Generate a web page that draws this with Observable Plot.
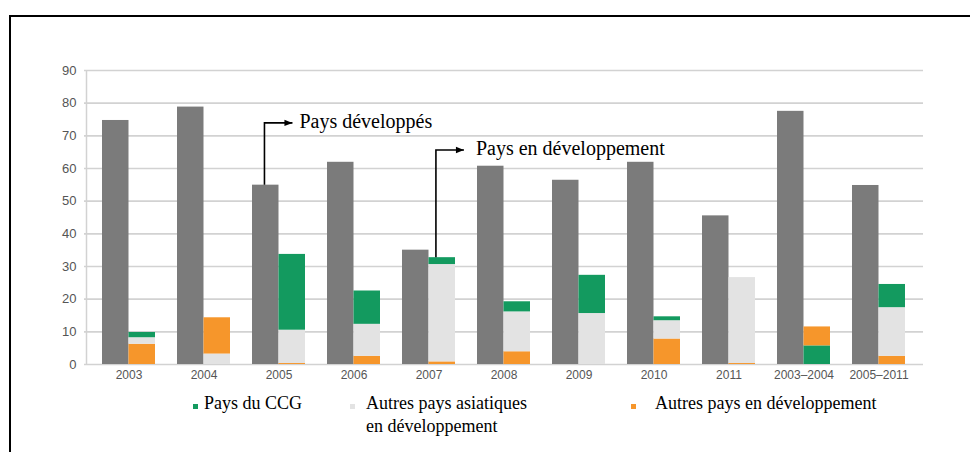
<!DOCTYPE html>
<html>
<head>
<meta charset="utf-8">
<script src="https://cdn.jsdelivr.net/npm/d3@7"></script>
<script src="https://cdn.jsdelivr.net/npm/@observablehq/plot@0.6"></script>
<style>
  html, body { margin: 0; padding: 0; background: #fff; }
  #wrap { position: relative; width: 970px; height: 452px; overflow: hidden; background: #fff; }
  #frame { position: absolute; left: 9px; top: 15px; width: 970px; height: 452px;
           border-top: 2px solid #000; border-left: 2px solid #000; pointer-events: none; }
  #chart { position: absolute; left: 0; top: 0; }
  .lg-mark { position: absolute; width: 5px; height: 5px; }
  .lg-text { position: absolute; font-family: "Liberation Serif", "Times New Roman", serif;
             font-size: 18px; line-height: 23px; color: #000; white-space: nowrap; }
</style>
</head>
<body>
<div id="wrap">
  <div id="chart"></div>
  <div id="frame"></div>
</div>
<script>
// ---------- DATA ----------
const categories = ["2003", "2004", "2005", "2006", "2007", "2008", "2009", "2010", "2011", "2003–2004", "2005–2011"];
const developed  = [74.7, 78.8, 54.9, 61.9, 35.0, 60.7, 56.4, 61.9, 45.5, 77.5, 54.8];
const ccg        = [1.6, 0, 23.2, 10.2, 2.1, 3.1, 11.7, 1.2, 0, 5.7, 7.1];
const asia       = [2.0, 3.2, 10.2, 9.8, 29.8, 12.2, 15.6, 5.6, 26.3, 0, 14.9];
const otherDev   = [6.2, 11.1, 0.3, 2.5, 0.8, 3.9, 0, 7.8, 0.3, 5.8, 2.5];
// stacking order of the developing-country segments, bottom to top
const stackOrder = [
  ["other", "asia", "ccg"], ["asia", "other", "ccg"], ["other", "asia", "ccg"], ["other", "asia", "ccg"],
  ["other", "asia", "ccg"], ["other", "asia", "ccg"], ["other", "asia", "ccg"], ["other", "asia", "ccg"],
  ["other", "asia", "ccg"], ["ccg", "other", "asia"], ["other", "asia", "ccg"]
];
const seriesKeys   = ["ccg", "asia", "other"];
const seriesLabels = ["Pays du CCG", "Autres pays asiatiques en développement", "Autres pays en développement"];
const yTicks = [0, 10, 20, 30, 40, 50, 60, 70, 80, 90];
const annotations = [
  {text: "Pays développés", category: "2005", bar: "developed", elbow: 73.8},
  {text: "Pays en développement", category: "2007", bar: "developing", elbow: 65.5}
];

// ---------- STYLE ----------
const colors = {ccg: "#139a5f", asia: "#e3e3e3", other: "#f6962b", developed: "#7b7b7b"};
const W = 970, H = 400, mL = 84, mR = 47, mT = 70, mB = 36;
const padIn = 0.3, padOut = 0.19;
const step = (W - mL - mR) / (categories.length - padIn + 2 * padOut);
const half = step * (1 - padIn) / 2;

// ---------- build tables ----------
const valuesBy = {ccg, asia, other: otherDev};
const devRows = categories.map((c, i) => ({category: c, value: developed[i]}));
const stackRows = [];
const totals = {};
categories.forEach((c, i) => {
  let acc = 0;
  for (const k of stackOrder[i]) {
    const v = valuesBy[k][i];
    if (v > 0) stackRows.push({category: c, series: seriesLabels[seriesKeys.indexOf(k)], y1: acc, y2: acc + v});
    acc += v;
  }
  totals[c] = acc;
});

const chart = Plot.plot({
  width: W, height: H,
  marginLeft: mL, marginRight: mR, marginTop: mT, marginBottom: mB,
  style: {fontFamily: "'Liberation Sans', Arial, sans-serif", fontSize: "12px", color: "#555", background: "transparent", overflow: "visible"},
  x: {domain: categories, paddingInner: padIn, paddingOuter: padOut, label: null, tickSize: 0, tickPadding: 6},
  y: {domain: [0, 90], ticks: yTicks, label: null, tickSize: 0, tickPadding: 8},
  color: {domain: seriesLabels, range: [colors.ccg, colors.asia, colors.other]},
  marks: [
    Plot.ruleY(yTicks, {stroke: "#d2d2d2", strokeWidth: 1.6}),
    Plot.barY(devRows, {x: "category", y: "value", fill: colors.developed, insetRight: half}),
    Plot.barY(stackRows, {x: "category", y1: "y1", y2: "y2", fill: "series", insetLeft: half})
  ]
});
document.getElementById("chart").appendChild(chart);

// slightly larger y tick labels, as in the reference
d3.select(chart).selectAll("[aria-label='y-axis tick label'] text, g[aria-label='y-axis'] text, g[aria-label='y-axis tick label'] text")
  .attr("font-size", 13);

// ---------- annotations & axis line, positioned with the plot's scales ----------
const xs = chart.scale("x"), ys = chart.scale("y");
const svg = d3.select(chart);
svg.append("line")
  .attr("x1", mL + 2.5).attr("x2", mL + 2.5)
  .attr("y1", ys.apply(90)).attr("y2", ys.apply(0))
  .attr("stroke", "#d2d2d2").attr("stroke-width", 1.5);

svg.append("defs").append("marker")
  .attr("id", "ah").attr("viewBox", "0 0 10 10").attr("refX", 10).attr("refY", 5)
  .attr("markerWidth", 9).attr("markerHeight", 8).attr("markerUnits", "userSpaceOnUse")
  .attr("orient", "auto")
  .append("path").attr("d", "M0,1L10,5L0,9Z").attr("fill", "#000");

const annStyle = [{frac: 0.47, len: 28, gap: 7}, {frac: 0.28, len: 28, gap: 12}];
annotations.forEach((a, i) => {
  const st = annStyle[i];
  const bandStart = xs.apply(a.category);
  const barStart = a.bar === "developed" ? bandStart : bandStart + half;
  const x = barStart + half * st.frac;
  const from = a.bar === "developed" ? developed[categories.indexOf(a.category)] : totals[a.category];
  const yTop = ys.apply(a.elbow);
  svg.append("path")
    .attr("d", `M${x},${ys.apply(from)}V${yTop}H${x + st.len}`)
    .attr("fill", "none").attr("stroke", "#000").attr("stroke-width", 1.6)
    .attr("marker-end", "url(#ah)");
  svg.append("text")
    .attr("x", x + st.len + st.gap).attr("y", yTop + 5)
    .attr("text-anchor", "start")
    .attr("font-family", "'Liberation Serif', 'Times New Roman', serif")
    .attr("font-size", 20).attr("fill", "#000")
    .text(a.text);
});

// ---------- legend (HTML, below the svg) ----------
const wrap = document.getElementById("wrap");
const legendItems = [
  {key: "ccg", mark: [193, 404], text: [204, 392], html: "Pays du CCG"},
  {key: "asia", mark: [350, 404], text: [366, 392], html: "Autres pays asiatiques<br>en développement"},
  {key: "other", mark: [631, 404], text: [655, 392], html: "Autres pays en développement"}
];
legendItems.forEach(it => {
  const m = document.createElement("div");
  m.className = "lg-mark";
  m.style.left = it.mark[0] + "px"; m.style.top = it.mark[1] + "px";
  m.style.background = colors[it.key];
  wrap.appendChild(m);
  const t = document.createElement("div");
  t.className = "lg-text";
  t.style.left = it.text[0] + "px"; t.style.top = it.text[1] + "px";
  t.innerHTML = it.html;
  wrap.appendChild(t);
});
</script>
</body>
</html>
